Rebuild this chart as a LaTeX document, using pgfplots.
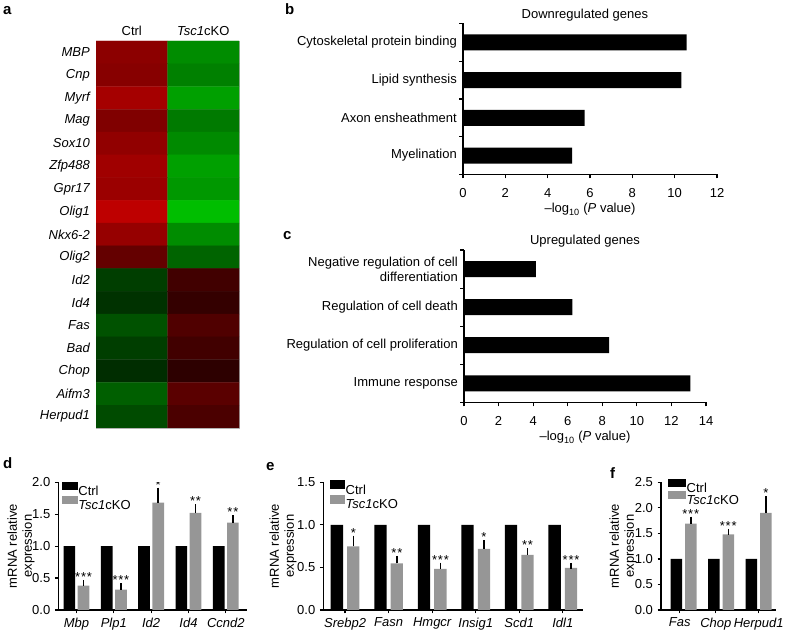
\documentclass[border=0pt]{standalone}
\usepackage{fontspec}
\setmainfont{Liberation Sans}
\usepackage{pgfplots}
\pgfplotsset{compat=1.18}
\newcommand{\fs}{\fontsize{13}{15}\selectfont}
\newcommand{\fsb}{\fontsize{15}{17}\selectfont\bfseries}
\newcommand{\sss}{*\hspace{0.8pt}*\hspace{0.8pt}*}
\newcommand{\sst}{*\hspace{0.8pt}*}
\definecolor{kogray}{RGB}{150,150,150}
\tikzset{st/.style={anchor=base, inner sep=0pt, yshift=1.5pt, font=\fs}}
\pgfplotsset{
  every axis/.append style={font=\fs, /pgf/number format/assume math mode=true},
  gobar/.style={scale only axis, xbar, bar width=16pt, xmin=0, ymin=0.5, ymax=4.5,
    axis x line*=bottom, axis y line*=left, tick align=outside,
    axis line style={line width=1.1pt}, tick style={line width=1.1pt, black},
    major tick length=0pt, minor tick length=4pt,
    ytick={1,2,3,4}, minor ytick={0.5,1.5,2.5,3.5,4.5},
    yticklabel style={anchor=east, inner sep=0pt, xshift=-6pt, align=right, font=\fs},
    xticklabel style={anchor=north, inner sep=0pt, yshift=-14pt, font=\fs},
    title style={anchor=base, inner sep=0pt, font=\fs},
    xlabel={–log\textsubscript{10} (\textit{P} value)},
    xlabel style={at={(axis description cs:0.5,0)}, anchor=base, yshift=-38.5pt, inner sep=0pt, font=\fs},
  },
  qbar/.style={scale only axis, height=127.7pt, ymin=0,
    axis x line*=bottom, axis y line*=left, tick align=outside,
    axis line style={line width=1.3pt}, tick style={line width=1.2pt, black},
    major tick length=3.5pt,
    xticklabel style={font=\fs\itshape, anchor=north, inner sep=0pt, yshift=-4.3pt},
    yticklabel style={font=\fs, /pgf/number format/.cd, fixed, fixed zerofill, precision=1},
    ylabel={mRNA relative\\expression},
    ylabel style={align=center, anchor=center, font=\fs, inner sep=0pt},
    legend style={draw=none, fill=none, anchor=north west, legend cell align=left,
      inner sep=0pt, font=\fs, nodes={inner sep=0.5pt, text height=9.5pt, text depth=0pt}},
  },
  ctrlbar/.style={fill=black, draw=none},
  kobar/.style={fill=kogray, draw=none, error bars/.cd, y dir=plus, y explicit,
    error bar style={line width=1.5pt, black}, error mark options={line width=1.5pt, black, mark size=3pt}},
}
\begin{document}
\fs
\begin{tikzpicture}
\path[use as bounding box] (0,0) rectangle (788pt,631pt);

% panel letters
\node[font=\fsb, anchor=base west, inner sep=0pt] at (3pt,616pt) {a};
\node[font=\fsb, anchor=base west, inner sep=0pt] at (285pt,616pt) {b};
\node[font=\fsb, anchor=base west, inner sep=0pt] at (283pt,391.7pt) {c};
\node[font=\fsb, anchor=base west, inner sep=0pt] at (3pt,162.7pt) {d};
\node[font=\fsb, anchor=base west, inner sep=0pt] at (266pt,160.5pt) {e};
\node[font=\fsb, anchor=base west, inner sep=0pt] at (610pt,152.7pt) {f};

% ---- a: heatmap
\begin{axis}[at={(96pt,203pt)}, anchor=south west, scale only axis,
  width=143pt, height=387pt, xmin=-0.5, xmax=1.5, ymin=-0.5, ymax=16.5, y dir=reverse,
  xtick={0,1}, xticklabels={Ctrl, \textit{Tsc1}cKO}, xticklabel pos=upper,
  xticklabel style={anchor=south, inner sep=0pt, yshift=4.7pt, font=\fs},
  ytick={0,...,16},
  yticklabels={MBP,Cnp,Myrf,Mag,Sox10,Zfp488,Gpr17,Olig1,Nkx6-2,Olig2,Id2,Id4,Fas,Bad,Chop,Aifm3,Herpud1},
  yticklabel style={font=\fs\itshape, anchor=east, inner sep=0pt, xshift=-6pt},
  major tick length=0pt, tick style={draw=none},
  axis line style={draw=gray!60, line width=0.5pt},
  colormap={rg}{rgb255(0cm)=(0,255,0); rgb255(1cm)=(0,0,0); rgb255(2cm)=(255,0,0)},
  point meta min=-255, point meta max=255]
\addplot[matrix plot*, mesh/cols=2, point meta=explicit] table[meta=c] {
x y c
0 0 140
1 0 -140
0 1 135
1 1 -128
0 2 165
1 2 -160
0 3 128
1 3 -122
0 4 145
1 4 -138
0 5 160
1 5 -160
0 6 155
1 6 -152
0 7 190
1 7 -190
0 8 150
1 8 -140
0 9 100
1 9 -100
0 10 -62
1 10 65
0 11 -50
1 11 52
0 12 -82
1 12 80
0 13 -62
1 13 65
0 14 -45
1 14 45
0 15 -95
1 15 90
0 16 -75
1 16 75
};
\end{axis}

% ---- b
\begin{axis}[gobar, at={(463pt,456.5pt)}, anchor=south west, width=254pt, height=151pt,
  xmax=12, xtick={0,2,...,12}, minor xtick={0,2,...,12},
  yticklabels={Myelination, Axon ensheathment, Lipid synthesis, Cytoskeletal protein binding},
  title={Downregulated genes}, title style={at={(axis description cs:0.48,1)}, yshift=-1pt}]
\addplot[fill=black, draw=none] coordinates {(5.15,1) (5.75,2) (10.32,3) (10.57,4)};
\end{axis}

% ---- c
\begin{axis}[gobar, at={(464pt,228.7pt)}, anchor=south west, width=242pt, height=152.3pt,
  xmax=14, xtick={0,2,...,14}, minor xtick={0,2,...,14},
  yticklabels={Immune response, Regulation of cell proliferation, Regulation of cell death, {Negative regulation of cell\\differentiation}},
  title={Upregulated genes}, title style={at={(axis description cs:0.5,1)}, yshift=-0.5pt}]
\addplot[fill=black, draw=none] coordinates {(13.1,1) (8.4,2) (6.27,3) (4.16,4)};
\end{axis}

% ---- d
\begin{axis}[qbar, at={(58.3pt,21pt)}, anchor=south west, width=188.4pt,
  xmin=0.513, xmax=5.56, ymax=2.0, ytick={0,0.5,1,1.5,2},
  ybar=2.5pt, bar width=11.7pt,
  xtick={1,...,5}, xticklabels={Mbp,Plp1,Id2,Id4,Ccnd2},
  ylabel style={at={(axis description cs:-0.198,0.5)}},
  legend style={at={(axis description cs:0,1)}, xshift=3.4pt, yshift=0.5pt, row sep=-0.3pt},
  legend image code/.code={\path[#1] (0pt,0.5pt) rectangle (16pt,8.7pt);}]
\addplot[ctrlbar] coordinates {(1,1) (2,1) (3,1) (4,1) (5,1)};
\addplot[kobar] coordinates {(1,0.38) +- (0,0.04) (2,0.32) +- (0,0.05) (3,1.68) +- (0,0.19) (4,1.52) +- (0,0.09) (5,1.37) +- (0,0.07)};
\legend{Ctrl, \textit{Tsc1}cKO}
\node[st] at (axis cs:1.19,0.42) {\sss};
\node[st] at (axis cs:2.19,0.37) {\sss};
\node[st] at (axis cs:3.19,1.87) {*};
\node[st] at (axis cs:4.19,1.61) {\sst};
\node[st] at (axis cs:5.19,1.44) {\sst};
\end{axis}

% ---- e
\begin{axis}[qbar, at={(323.3pt,21pt)}, anchor=south west, width=260pt,
  xmin=0.5, xmax=6.47, ymax=1.5, ytick={0,0.5,1,1.5},
  ybar=4.1pt, bar width=12.3pt,
  xtick={1,...,6}, xticklabels={Srebp2,Fasn,Hmgcr,Insig1,Scd1,Idl1},
  ylabel style={at={(axis description cs:-0.155,0.5)}},
  legend style={at={(axis description cs:0,1)}, xshift=6.7pt, yshift=2pt, row sep=0.5pt},
  legend image code/.code={\path[#1] (0pt,0.2pt) rectangle (15pt,8.9pt);}]
\addplot[ctrlbar] coordinates {(1,1) (2,1) (3,1) (4,1) (5,1) (6,1)};
\addplot[kobar] coordinates {(1,0.748) +- (0,0.09) (2,0.548) +- (0,0.052) (3,0.482) +- (0,0.04) (4,0.717) +- (0,0.065) (5,0.646) +- (0,0.045) (6,0.494) +- (0,0.023)};
\legend{Ctrl, \textit{Tsc1}cKO}
\node[st] at (axis cs:1.19,0.838) {*};
\node[st] at (axis cs:2.19,0.600) {\sst};
\node[st] at (axis cs:3.19,0.522) {\sss};
\node[st] at (axis cs:4.19,0.782) {*};
\node[st] at (axis cs:5.19,0.691) {\sst};
\node[st] at (axis cs:6.19,0.517) {\sss};
\end{axis}

% ---- f
\begin{axis}[qbar, at={(661pt,21pt)}, anchor=south west, width=115pt,
  xmin=0.40, xmax=3.46, ymax=2.5, ytick={0,0.5,1,1.5,2,2.5},
  ybar=3pt, bar width=11.5pt,
  xtick={0.9,1.86,3.0}, xticklabels={Fas,Chop,Herpud1},
  ylabel style={at={(axis description cs:-0.33,0.5)}},
  legend style={at={(axis description cs:0,1)}, xshift=7pt, yshift=3pt, row sep=-1.7pt},
  legend image code/.code={\path[#1] (0pt,1pt) rectangle (18pt,8.3pt);}]
\addplot[ctrlbar] coordinates {(1,1) (2,1) (3,1)};
\addplot[kobar] coordinates {(1,1.69) +- (0,0.08) (2,1.48) +- (0,0.05) (3,1.90) +- (0,0.27)};
\legend{Ctrl, \textit{Tsc1}cKO}
\node[st] at (axis cs:1.19,1.77) {\sss};
\node[st] at (axis cs:2.19,1.53) {\sss};
\node[st] at (axis cs:3.19,2.17) {*};
\end{axis}
\end{tikzpicture}
\end{document}
